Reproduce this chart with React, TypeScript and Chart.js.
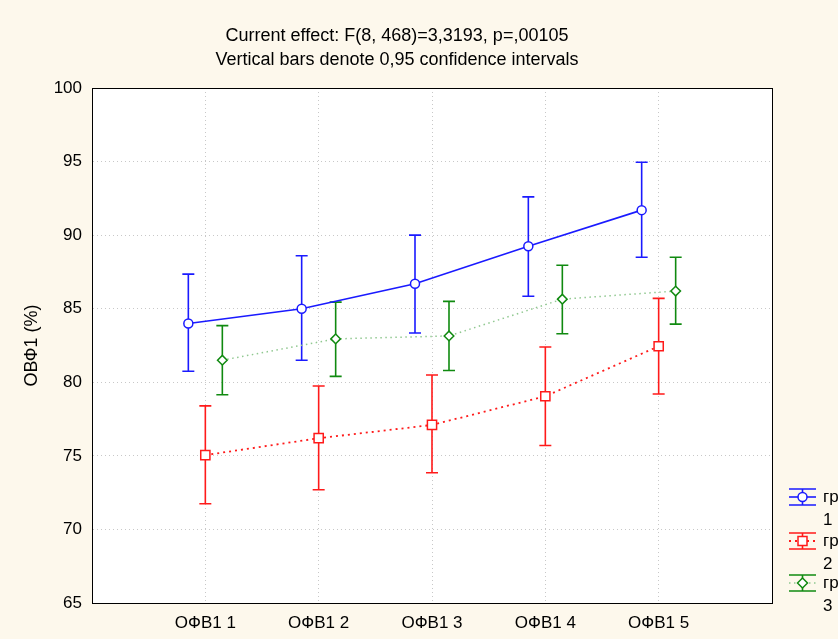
import React, { useEffect, useRef } from 'react';
import { Chart, registerables } from 'chart.js';

Chart.register(...registerables);

const categories = ['ОФВ1 1', 'ОФВ1 2', 'ОФВ1 3', 'ОФВ1 4', 'ОФВ1 5'];
const groupNames = ['гр 1', 'гр 2', 'гр 3'];

const g1Mean = [84.0, 85.0, 86.7, 89.25, 91.7];
const g1Low = [80.75, 81.5, 83.35, 85.85, 88.5];
const g1High = [87.35, 88.6, 90.0, 92.6, 94.95];

const g2Mean = [75.05, 76.2, 77.1, 79.05, 82.45];
const g2Low = [71.75, 72.7, 73.85, 75.7, 79.2];
const g2High = [78.4, 79.75, 80.5, 82.4, 85.7];

const g3Mean = [81.5, 82.95, 83.15, 85.65, 86.2];
const g3Low = [79.15, 80.4, 80.8, 83.3, 83.95];
const g3High = [83.85, 85.45, 85.5, 87.95, 88.5];

const yMin = 65;
const yMax = 100;
const yStep = 5;

const titleLines = [
  'Current effect: F(8, 468)=3,3193, p=,00105',
  'Vertical bars denote 0,95 confidence intervals',
];
const yTitle = 'ОВФ1 (%)';

const FONT = "'Liberation Sans', Arial, sans-serif";
const FS = 17;
const BG = '#fdf8ec';

type Group = {
  name: string;
  mean: number[];
  low: number[];
  high: number[];
  offset: number;
  lineColor: string;
  barColor: string;
  dash: number[];
  lineWidth: number;
  pointStyle: any;
  pointRadius: number;
};

const groups: Group[] = [
  { name: groupNames[0], mean: g1Mean, low: g1Low, high: g1High, offset: -0.15, lineColor: '#1a1aff', barColor: '#1a1aff', dash: [], lineWidth: 1.6, pointStyle: 'circle', pointRadius: 4.5 },
  { name: groupNames[1], mean: g2Mean, low: g2Low, high: g2High, offset: 0, lineColor: '#ff1a1a', barColor: '#ff1a1a', dash: [2, 4], lineWidth: 1.8, pointStyle: 'rect', pointRadius: 6.5 },
  { name: groupNames[2], mean: g3Mean, low: g3Low, high: g3High, offset: 0.15, lineColor: '#90c890', barColor: '#108a10', dash: [1.5, 3.5], lineWidth: 1.5, pointStyle: 'rectRot', pointRadius: 4.8 },
];

const bgPlugin = {
  id: 'bgPlugin',
  beforeDraw(chart: any) {
    const { ctx, chartArea } = chart;
    ctx.save();
    ctx.fillStyle = BG;
    ctx.fillRect(0, 0, chart.width, chart.height);
    ctx.fillStyle = '#ffffff';
    ctx.fillRect(chartArea.left, chartArea.top, chartArea.right - chartArea.left, chartArea.bottom - chartArea.top);
    ctx.restore();
  },
};

const errorBarPlugin = {
  id: 'errorBarPlugin',
  beforeDatasetsDraw(chart: any) {
    const { ctx, chartArea } = chart;
    const xs = chart.scales.x;
    const ys = chart.scales.y;
    ctx.save();
    ctx.strokeStyle = '#000';
    ctx.lineWidth = 1;
    ctx.strokeRect(Math.round(chartArea.left) + 0.5, Math.round(chartArea.top) + 0.5, Math.round(chartArea.right - chartArea.left), Math.round(chartArea.bottom - chartArea.top));
    groups.forEach((g) => {
      ctx.strokeStyle = g.barColor;
      ctx.lineWidth = 1.6;
      ctx.setLineDash([]);
      g.mean.forEach((_, i) => {
        const x = xs.getPixelForValue(i + 1 + g.offset);
        const yl = ys.getPixelForValue(g.low[i]);
        const yh = ys.getPixelForValue(g.high[i]);
        ctx.beginPath();
        ctx.moveTo(x, yl);
        ctx.lineTo(x, yh);
        ctx.moveTo(x - 6, yl);
        ctx.lineTo(x + 6, yl);
        ctx.moveTo(x - 6, yh);
        ctx.lineTo(x + 6, yh);
        ctx.stroke();
      });
    });
    ctx.restore();
  },
};

const yTitlePlugin = {
  id: 'yTitlePlugin',
  afterDraw(chart: any) {
    const { ctx, chartArea } = chart;
    ctx.save();
    ctx.translate(32, (chartArea.top + chartArea.bottom) / 2);
    ctx.rotate(-Math.PI / 2);
    ctx.fillStyle = '#000';
    ctx.font = `18px ${FONT}`;
    ctx.textAlign = 'center';
    ctx.textBaseline = 'middle';
    ctx.fillText(yTitle, 0, 0);
    ctx.restore();
  },
};

const legendPlugin = {
  id: 'customLegend',
  afterDraw(chart: any) {
    const { ctx } = chart;
    const x0 = 789;
    const x1 = 816;
    const xc = (x0 + x1) / 2;
    const ys = [497, 541, 583];
    ctx.save();
    groups.forEach((g, k) => {
      const y = ys[k];
      ctx.setLineDash([]);
      ctx.strokeStyle = g.barColor;
      ctx.lineWidth = 1.6;
      ctx.beginPath();
      ctx.moveTo(x0, y - 8);
      ctx.lineTo(x1, y - 8);
      ctx.moveTo(x0, y + 8);
      ctx.lineTo(x1, y + 8);
      ctx.moveTo(xc, y - 8);
      ctx.lineTo(xc, y + 8);
      ctx.stroke();
      ctx.strokeStyle = g.lineColor;
      ctx.lineWidth = g.lineWidth;
      ctx.setLineDash(g.dash);
      ctx.beginPath();
      ctx.moveTo(x0, y);
      ctx.lineTo(x1, y);
      ctx.stroke();
      ctx.setLineDash([]);
      ctx.fillStyle = '#fff';
      ctx.strokeStyle = g.barColor;
      ctx.lineWidth = 1.5;
      ctx.beginPath();
      if (g.pointStyle === 'circle') {
        ctx.arc(xc, y, 4.5, 0, Math.PI * 2);
      } else if (g.pointStyle === 'rect') {
        ctx.rect(xc - 4.5, y - 4.5, 9, 9);
      } else {
        ctx.moveTo(xc, y - 5);
        ctx.lineTo(xc + 5, y);
        ctx.lineTo(xc, y + 5);
        ctx.lineTo(xc - 5, y);
        ctx.closePath();
      }
      ctx.fill();
      ctx.stroke();
      ctx.fillStyle = '#000';
      ctx.font = `${FS}px ${FONT}`;
      ctx.textBaseline = 'middle';
      ctx.textAlign = 'left';
      const parts = g.name.split(' ');
      ctx.fillText(parts[0], 823, y);
      ctx.fillText(parts[1], 823, y + 23);
    });
    ctx.restore();
  },
};

export default function App() {
  const ref = useRef<HTMLCanvasElement | null>(null);

  useEffect(() => {
    if (!ref.current) return;
    const chart = new Chart(ref.current, {
      type: 'line',
      data: {
        datasets: groups.map((g) => ({
          label: g.name,
          data: g.mean.map((v, i) => ({ x: i + 1 + g.offset, y: v })),
          borderColor: g.lineColor,
          borderWidth: g.lineWidth,
          borderDash: g.dash,
          pointStyle: g.pointStyle,
          pointRadius: g.pointRadius,
          pointBackgroundColor: '#ffffff',
          pointBorderColor: g.barColor,
          pointBorderWidth: 1.5,
          tension: 0,
          fill: false,
        })),
      },
      options: {
        animation: false,
        responsive: false,
        maintainAspectRatio: false,
        layout: { padding: { left: 22, right: 66, top: 0, bottom: 0 } },
        scales: {
          x: {
            type: 'linear',
            min: 0,
            max: categories.length + 1,
            afterBuildTicks: (s: any) => {
              s.ticks = Array.from({ length: categories.length + 2 }, (_, i) => ({ value: i }));
            },
            afterFit: (s: any) => {
              s.height = 36;
            },
            ticks: {
              autoSkip: false,
              maxRotation: 0,
              color: '#000',
              padding: 10,
              font: { family: FONT, size: FS },
              callback: (v: any) => categories[Number(v) - 1] ?? '',
            },
            grid: { color: '#c8c8c8', lineWidth: 1, drawTicks: false },
            border: { color: '#000', width: 1, dash: [1, 3] },
          },
          y: {
            min: yMin,
            max: yMax,
            afterFit: (s: any) => {
              s.width = 70;
            },
            ticks: {
              stepSize: yStep,
              color: '#000',
              padding: 10,
              font: { family: FONT, size: FS },
            },
            title: { display: false, text: yTitle },
            grid: { color: '#c8c8c8', lineWidth: 1, drawTicks: false },
            border: { color: '#000', width: 1, dash: [1, 3] },
          },
        },
        plugins: {
          legend: { display: false },
          tooltip: { enabled: false },
          title: {
            display: true,
            text: titleLines,
            color: '#000',
            font: { family: FONT, size: 18, weight: 'normal', lineHeight: 24 / 18 },
            padding: { top: 24, bottom: 16 },
          },
        },
      },
      plugins: [bgPlugin, errorBarPlugin, legendPlugin, yTitlePlugin],
    } as any);
    return () => chart.destroy();
  }, []);

  return (
    <div style={{ position: 'fixed', left: 0, top: 0, width: 838, height: 639, background: BG }}>
      <canvas ref={ref} width={838} height={639} style={{ display: 'block', width: 838, height: 639 }} />
    </div>
  );
}
